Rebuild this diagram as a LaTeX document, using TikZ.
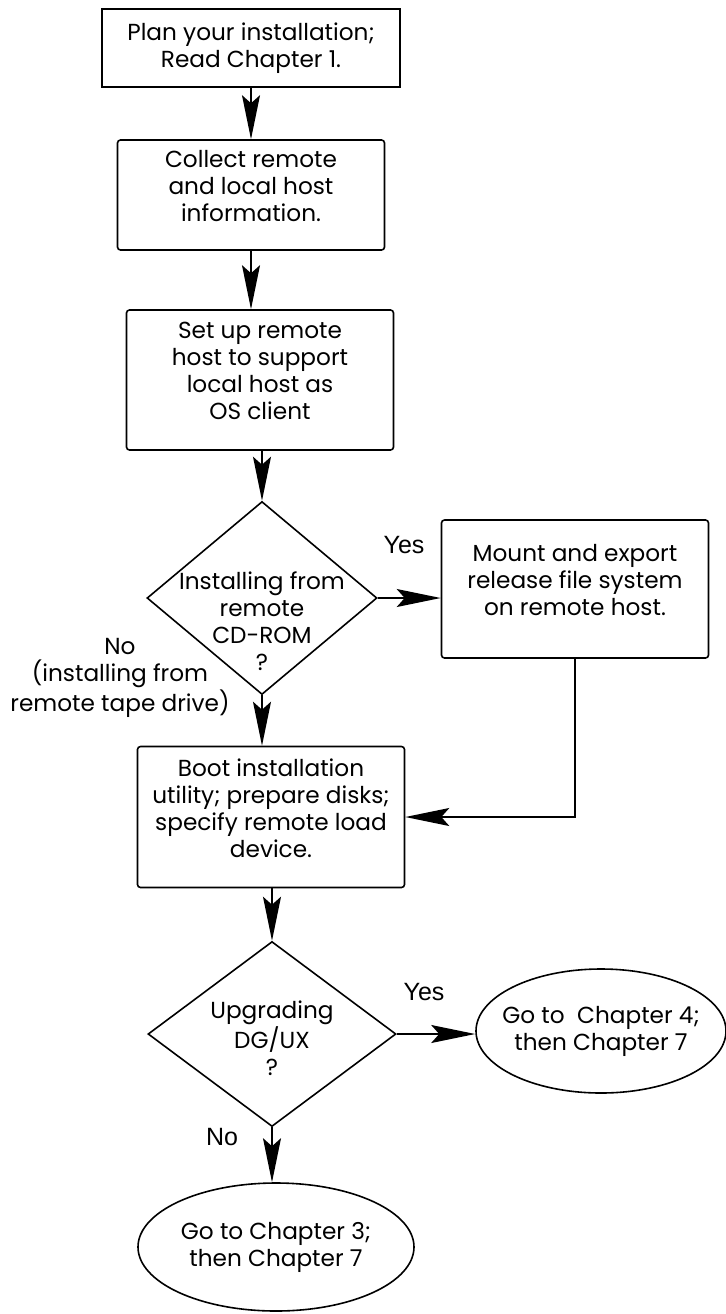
\documentclass[tikz,border=0pt]{standalone}
\usepackage{fontspec}
\setmainfont{Poppins}
\newfontfamily\answerfont{Liberation Sans}
\usetikzlibrary{positioning, arrows.meta, shapes.geometric}

\begin{document}
\begin{tikzpicture}[x=0.5pt, y=-0.5pt, line width=0.8pt, every node/.style={font=\fontsize{11.6}{13.5}\selectfont, align=center, inner sep=0pt}, box/.style={draw, rounded corners=1.5pt, minimum width=133.5pt, text depth=9pt}, choice/.style={draw, diamond}, goal/.style={draw, ellipse, inner xsep=-12pt}, answer/.style={font=\answerfont\fontsize{12.5}{14}\selectfont}, >={Stealth[length=22pt, width=9pt, inset=4pt]}]
    \useasboundingbox (0,0) rectangle (726,1314);

    \node[draw, minimum width=149pt, minimum height=39pt] (plan) at (251,48) {Plan your installation;\\Read Chapter 1.};
    \node[box, minimum height=55pt] (collect) at (251,195) {Collect remote\\and local host\\information.};
    \node[box, minimum height=70pt] (setup) at (260,380) {Set up remote\\host to support\\local host as\\OS client};
    \node[choice, minimum width=115pt, minimum height=96.5pt] (cdrom) at (262,598) {};
    \node (cdromtext) at (262,621) {Installing from\\remote\\CD-ROM\\?};
    \node[box, minimum height=69pt] (mount) at (575,589) {Mount and export\\release file system\\on remote host.};
    \node[box, minimum height=70.5pt] (boot) at (271,817) {Boot installation\\utility; prepare disks;\\specify remote load\\device.};
    \node[choice, minimum width=124pt, minimum height=92.5pt] (upgrade) at (272,1034) {};
    \node (upgradetext) at (272,1038) {Upgrading\\DG/UX\\?};
    \node[goal, minimum width=125pt, minimum height=62pt] (chfour) at (601,1031) {Go to~ Chapter 4;\\then Chapter 7};
    \node[goal, minimum width=138pt, minimum height=64pt] (chthree) at (276,1247) {Go to Chapter 3;\\then Chapter 7};

    \node[answer] (yescd) at (404,545) {Yes};
    \node (nocd) at (120,678) {No\\(installing from\\remote tape drive)};
    \node[answer] (yesup) at (424,992) {Yes};
    \node[answer] (noup) at (222,1137) {No};

    \draw[->] (plan) -- (collect);
    \draw[->] (collect.south) -- (collect.south |- setup.north);
    \draw[->] (setup.south -| cdrom.north) -- (cdrom.north);
    \draw[->] (cdrom.east) -- (cdrom.east -| mount.west);
    \draw[->] (cdrom.south) -- (cdrom.south |- boot.north);
    \draw[->] (mount.south) |- (boot.east);
    \draw[->] (boot.south -| upgrade.north) -- (upgrade.north);
    \draw[->] (upgrade.east) -- (upgrade.east -| chfour.west);
    \draw[->] (upgrade.south) -- (upgrade.south |- chthree.north);
\end{tikzpicture}
\end{document}
